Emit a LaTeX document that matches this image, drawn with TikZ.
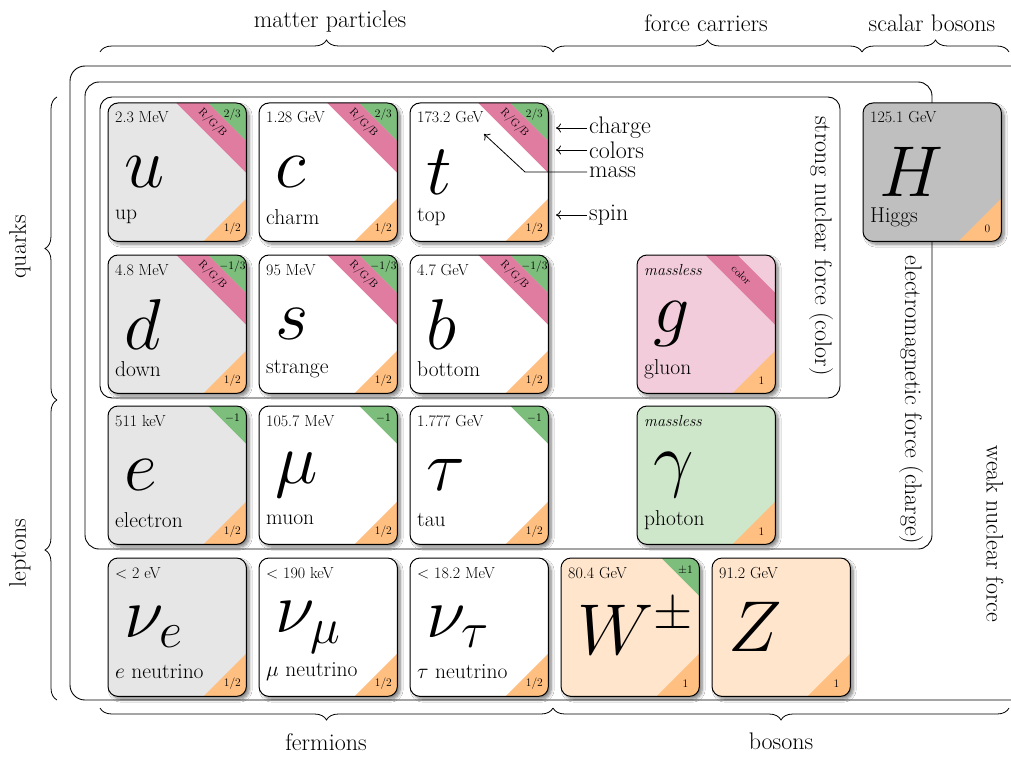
\RequirePackage{fix-cm}
\documentclass[tikz,border=0pt]{standalone}
\usepackage{fontspec}
\usetikzlibrary{shadows.blur,decorations.pathreplacing,calc,arrows.meta}
\definecolor{cgray}{RGB}{230,230,230}
\definecolor{chiggs}{RGB}{191,191,191}
\definecolor{cgluon}{RGB}{242,204,218}
\definecolor{cphoton}{RGB}{206,230,202}
\definecolor{cweak}{RGB}{255,229,204}
\definecolor{cband}{RGB}{224,124,160}
\definecolor{ccharge}{RGB}{125,190,125}
\definecolor{cspin}{RGB}{255,191,128}
\newcommand\fsz[1]{\fontsize{#1}{#1}\selectfont}
\newcommand\ifnotempty[2]{\if\relax\detokenize{#1}\relax\else#2\fi}
\tikzset{
  card/.style={minimum width=138pt, minimum height=138pt, anchor=north west,
    rounded corners=10pt, inner sep=0pt,
    blur shadow={shadow xshift=3pt, shadow yshift=-3pt, shadow blur radius=3pt, shadow blur steps=8, shadow opacity=50}},
  cardborder/.style={rounded corners=10pt, line width=1pt},
  massl/.style={anchor=base west, font=\fsz{16}, inner sep=0pt},
  symb/.style={anchor=west, font=\fsz{72}, inner sep=0pt},
  namel/.style={anchor=west, font=\fsz{21.5}, inner sep=0pt},
  smalll/.style={font=\fsz{11.5}, inner sep=0pt},
  rgbl/.style={font=\fsz{11}, inner sep=0pt, rotate=-45},
  bigl/.style={font=\fsz{24}, inner sep=2pt},
  box/.style={line width=0.9pt},
  bracedec/.style={decorate, decoration={brace, amplitude=12pt}, line width=0.8pt},
  annarrow/.style={-{To[length=5pt,width=9pt]}, line width=0.8pt},
}
% #1 name, #2 position, #3 fill, #4 mass, #5 symbol, #6 label, #7 charge, #8 colors, #9 spin
\newcommand\particle[9]{%
  \node[card, fill=#3] (#1) at (#2) {};
  \begin{scope}
    \clip[rounded corners=10pt] (#1.north west) rectangle (#1.south east);
    \ifnotempty{#8}{\fill[cband] ($(#1.north east)+(-70,0)$) -- ++(70,70) -- ++(0,-32) -- ++(-38,-38) -- cycle;}
    \ifnotempty{#7}{\fill[ccharge] (#1.north east) -- ++(-38,0) -- ++(38,38) -- cycle;}
    \fill[cspin] (#1.south east) -- ++(-43,0) -- ++(43,-43) -- cycle;
  \end{scope}
  \draw[cardborder] (#1.north west) rectangle (#1.south east);
  \node[massl] (#1-m) at ($(#1.north west)+(7,20)$) {#4};
  \node[symb] (#1-y) at ($(#1.north west)+(16,69)$) {$#5$};
  \ifnotempty{#6}{\node[namel] (#1-n) at ($(#1.north west)+(7,114)$) {#6};}
  \ifnotempty{#7}{\node[smalll] (#1-q) at ($(#1.north east)+(-14,12)$) {#7};}
  \ifnotempty{#8}{\node[rgbl] (#1-c) at ($(#1.north east)+(-34,20)$) {#8};}
  \node[smalll] (#1-s) at ($(#1.south east)+(-14,-13)$) {#9};
}
\begin{document}
\begin{tikzpicture}[x=1pt, y=-1pt]
\useasboundingbox (0,0) rectangle (1011,762);
\fill[white] (0,0) rectangle (1011,762);

% interaction boxes
\draw[box, rounded corners=15pt] (1030,66) -- (70,66) -- (70,700) -- (1030,700);
\draw[box, rounded corners=14pt] (85,82) rectangle (932,549);
\draw[box, rounded corners=12pt] (100,97) rectangle (840,398);

% braces
\draw[bracedec] (100,52) -- (553,52);
\draw[bracedec] (553,52) -- (862,52);
\draw[bracedec] (862,52) -- (1009,52);
\draw[bracedec] (553,708) -- (100,708);
\draw[bracedec] (1009,708) -- (553,708);
\draw[bracedec] (57,400) -- (57,97);
\draw[bracedec] (57,700) -- (57,400);

\node[bigl, anchor=south] (lmat) at (330,34) {matter particles};
\node[bigl, anchor=south] (lfor) at (706,34) {force carriers};
\node[bigl, anchor=south] (lsca) at (932,34) {scalar bosons};
\node[bigl, anchor=north] (lfer) at (326,731) {fermions};
\node[bigl, anchor=north] (lbos) at (781,731) {bosons};
\node[bigl, rotate=90] (lqua) at (20,247) {quarks};
\node[bigl, rotate=90] (llep) at (20,553) {leptons};
\node[bigl, rotate=-90] (lstr) at (821,246) {strong nuclear force (color)};
\node[bigl, rotate=-90] (lem) at (911,400) {electromagnetic force (charge)};
\node[bigl, rotate=-90] (lwk) at (995,534) {weak nuclear force};

% quarks
\particle{u}{108,103}{cgray}{2.3 MeV}{u}{up}{2/3}{R/G/B}{1/2}
\particle{c}{259,103}{white}{1.28 GeV}{c}{charm}{2/3}{R/G/B}{1/2}
\particle{t}{410,103}{white}{173.2 GeV}{t}{top}{2/3}{R/G/B}{1/2}
\particle{d}{108,255}{cgray}{4.8 MeV}{d}{down}{$-1/3$}{R/G/B}{1/2}
\particle{s}{259,255}{white}{95 MeV}{s}{strange}{$-1/3$}{R/G/B}{1/2}
\particle{b}{410,255}{white}{4.7 GeV}{b}{bottom}{$-1/3$}{R/G/B}{1/2}
% leptons
\particle{e}{108,406}{cgray}{511 keV}{e}{electron}{$-1$}{}{1/2}
\particle{mu}{259,406}{white}{105.7 MeV}{\mu}{muon}{$-1$}{}{1/2}
\particle{tau}{410,406}{white}{1.777 GeV}{\tau}{tau}{$-1$}{}{1/2}
\particle{ne}{108,558}{cgray}{$<$ 2 eV}{\nu_e}{$e$ neutrino}{}{}{1/2}
\particle{nm}{259,558}{white}{$<$ 190 keV}{\nu_\mu}{$\mu$ neutrino}{}{}{1/2}
\particle{nt}{410,558}{white}{$<$ 18.2 MeV}{\nu_\tau}{$\tau$ neutrino}{}{}{1/2}
% bosons
\particle{g}{637,255}{cgluon}{\textit{massless}}{g}{gluon}{}{color}{1}
\particle{ph}{637,406}{cphoton}{\textit{massless}}{\gamma}{photon}{}{}{1}
\particle{W}{561,558}{cweak}{80.4 GeV}{W^{\pm}}{}{$\pm1$}{}{1}
\particle{Z}{712,558}{cweak}{91.2 GeV}{Z}{}{}{}{1}
\particle{H}{863,103}{chiggs}{125.1 GeV}{H}{Higgs}{}{}{0}

% annotations
\node[bigl, anchor=west] (aq) at (587,128) {charge};
\node[bigl, anchor=west] (ac) at (587,150) {colors};
\node[bigl, anchor=west] (am) at (587,172) {mass};
\node[bigl, anchor=west] (as) at (587,215) {spin};
\coordinate (tq) at (556,128);
\coordinate (tc) at (556,150);
\coordinate (ts) at (556,215);
\coordinate (tm1) at (525,172);
\coordinate (tm2) at (484,134);
\draw[annarrow] (aq.west) -- (tq);
\draw[annarrow] (ac.west) -- (tc);
\draw[annarrow] (as.west) -- (ts);
\draw[annarrow] (am.west) -- (tm1) -- (tm2);
\end{tikzpicture}
\end{document}
